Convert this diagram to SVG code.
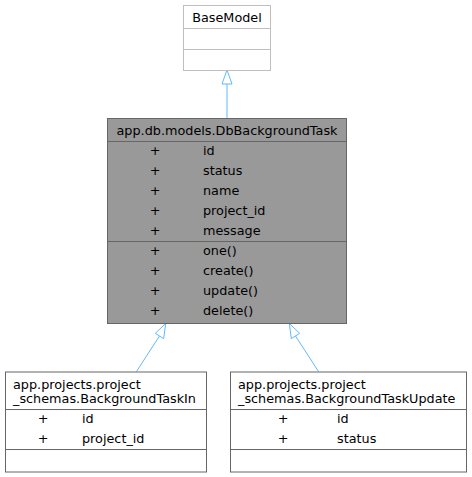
<svg xmlns="http://www.w3.org/2000/svg" width="472" height="477" viewBox="0 0 472 477">
<style>
text{font-family:"DejaVu Sans",sans-serif;font-size:12.8px;fill:#000}
.c{text-anchor:middle}
.gray{fill:#999999;stroke:#666666;stroke-width:1}
.white{fill:#ffffff;stroke:#666666;stroke-width:1}
.light{fill:#ffffff;stroke:#bfbfbf;stroke-width:1}
.dg{stroke:#666666;stroke-width:1;fill:none}
.dl{stroke:#bfbfbf;stroke-width:1;fill:none}
.edge{stroke:#63b8ff;stroke-width:1;fill:none}
.head{fill:#ffffff;stroke:#63b8ff;stroke-width:1}
</style>
<rect width="472" height="477" fill="#ffffff"/>
<g id="connectors">
<line class="edge" x1="227" y1="118.5" x2="227" y2="84"/>
<polygon class="head" points="227,70 222,84 232,84"/>
<line class="edge" x1="136.5" y1="371.5" x2="159.5" y2="336"/>
<polygon class="head" points="165.7,323.5 155.3,333.3 163.7,338.7"/>
<line class="edge" x1="318.5" y1="371.5" x2="295.5" y2="336"/>
<polygon class="head" points="289.3,323.5 291.3,338.7 299.7,333.3"/>
</g>
<g id="BaseModel">
<rect class="light" x="183.5" y="5.5" width="87" height="65"/>
<line class="dl" x1="183.5" y1="28.5" x2="270.5" y2="28.5"/>
<line class="dl" x1="183.5" y1="49.5" x2="270.5" y2="49.5"/>
<text class="c" x="227" y="21.5">BaseModel</text>
</g>
<g id="DbBackgroundTask">
<rect class="gray" x="107.5" y="118.5" width="239" height="205"/>
<line class="dg" x1="107.5" y1="141.5" x2="346.5" y2="141.5"/>
<line class="dg" x1="107.5" y1="241.5" x2="346.5" y2="241.5"/>
<text class="c" x="227" y="134.5">app.db.models.DbBackgroundTask</text>
<text class="c" x="155" y="155">+</text><text x="203" y="155">id</text>
<text class="c" x="155" y="175">+</text><text x="203" y="175">status</text>
<text class="c" x="155" y="195">+</text><text x="203" y="195">name</text>
<text class="c" x="155" y="215">+</text><text x="203" y="215">project_id</text>
<text class="c" x="155" y="235">+</text><text x="203" y="235">message</text>
<text class="c" x="155" y="255">+</text><text x="203" y="255">one()</text>
<text class="c" x="155" y="275">+</text><text x="203" y="275">create()</text>
<text class="c" x="155" y="295">+</text><text x="203" y="295">update()</text>
<text class="c" x="155" y="315">+</text><text x="203" y="315">delete()</text>
</g>
<g id="BackgroundTaskIn">
<rect class="white" x="5.5" y="372" width="201" height="100"/>
<line class="dg" x1="5.5" y1="409.5" x2="206.5" y2="409.5"/>
<line class="dg" x1="5.5" y1="449.5" x2="206.5" y2="449.5"/>
<text x="13" y="388.5">app.projects.project</text>
<text x="13" y="403">_schemas.BackgroundTaskIn</text>
<text class="c" x="43" y="423">+</text><text x="82" y="423">id</text>
<text class="c" x="43" y="443">+</text><text x="82" y="443">project_id</text>
</g>
<g id="BackgroundTaskUpdate">
<rect class="white" x="230.5" y="372" width="236" height="100"/>
<line class="dg" x1="230.5" y1="409.5" x2="466.5" y2="409.5"/>
<line class="dg" x1="230.5" y1="449.5" x2="466.5" y2="449.5"/>
<text x="238" y="388.5">app.projects.project</text>
<text x="238" y="403">_schemas.BackgroundTaskUpdate</text>
<text class="c" x="283" y="423">+</text><text x="337" y="423">id</text>
<text class="c" x="283" y="443">+</text><text x="337" y="443">status</text>
</g>
</svg>
